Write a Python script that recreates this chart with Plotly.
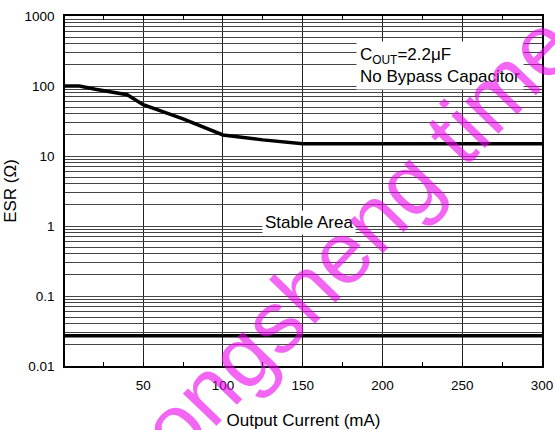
import plotly.graph_objects as go

# Upper ESR stability boundary vs. output current
current_upper = [1, 10, 20, 40, 50, 75, 100, 125, 150, 200, 250, 300]
esr_upper = [100, 100, 90, 75, 54, 34, 20, 17, 15, 15, 15, 15]

# Lower ESR stability boundary
current_lower = [1, 300]
esr_lower = [0.027, 0.027]

x_ticks = [50, 100, 150, 200, 250, 300]
y_decades = [0.01, 0.1, 1, 10, 100, 1000]
y_labels = ["0.01", "0.1", "1", "10", "100", "1000"]

# horizontal grid at every 1..9 step of each decade, labelled only at decades
y_grid = []
y_grid_text = []
for d, lab in zip(y_decades, y_labels):
    for k in range(1, 10):
        if d == 1000 and k > 1:
            break
        y_grid.append(d * k)
        y_grid_text.append(lab if k == 1 else " ")

FONT = "Liberation Sans, Arial, sans-serif"

fig = go.Figure()
fig.add_trace(go.Scatter(x=current_upper, y=esr_upper, mode="lines",
                         line=dict(color="black", width=3.5), showlegend=False))
fig.add_trace(go.Scatter(x=current_lower, y=esr_lower, mode="lines",
                         line=dict(color="black", width=3.5), showlegend=False))

fig.update_layout(
    width=555, height=430,
    margin=dict(l=65, r=13, t=16, b=64),
    paper_bgcolor="white", plot_bgcolor="white",
    font=dict(family=FONT, color="black", size=13.5),
    xaxis=dict(
        range=[1, 300], automargin=False,
        tickmode="array", tickvals=x_ticks,
        ticks="", ticklabelstandoff=6,
        showgrid=True, gridcolor="#222", gridwidth=1,
        showline=True, linecolor="black", linewidth=1.5, mirror="allticks",
        zeroline=False,
        minor=dict(tickmode="linear", tick0=0, dtick=25, ticks="inside",
                   ticklen=4, tickcolor="black", tickwidth=1, showgrid=False),
        title=dict(text="Output Current (mA)", font=dict(size=17), standoff=22),
    ),
    yaxis=dict(
        type="log", range=[-2, 3], automargin=False,
        tickmode="array", tickvals=y_grid, ticktext=y_grid_text,
        ticks="", ticklabelstandoff=6,
        showgrid=True, gridcolor="#444", gridwidth=1,
        showline=True, linecolor="black", linewidth=1.5, mirror=True,
        zeroline=False,
        title=dict(text="ESR (Ω)", font=dict(size=17), standoff=4),
    ),
)

fig.add_annotation(
    x=183.5, y=2.286, xref="x", yref="y",
    text="C<sub>OUT</sub>=2.2μF<br>No Bypass Capacitor",
    showarrow=False, xanchor="left", yanchor="middle", align="left",
    font=dict(size=17, family=FONT, color="black"),
    bgcolor="white", borderpad=3,
)
fig.add_annotation(
    x=154, y=0.057, xref="x", yref="y",
    text="Stable Area",
    showarrow=False, xanchor="center", yanchor="middle",
    font=dict(size=17, family=FONT, color="black"),
    bgcolor="white", borderpad=2,
)

# diagonal site watermark
fig.add_annotation(
    x=0.612, y=0.37, xref="paper", yref="paper",
    text="ongsheng time",
    showarrow=False, textangle=-46,
    font=dict(size=88, family=FONT, color="rgba(235,0,235,0.6)"),
)

fig.write_html("out.html")
